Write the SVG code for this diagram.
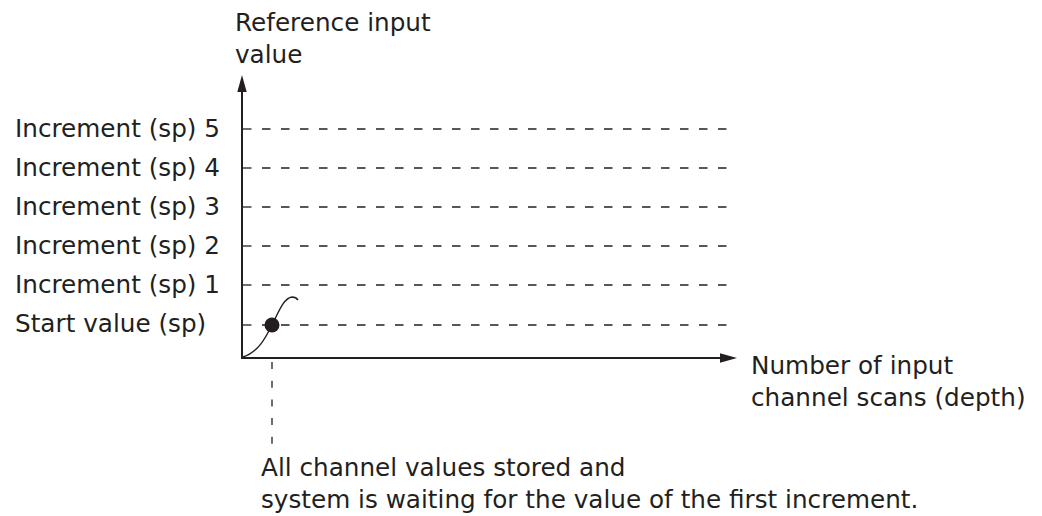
<svg xmlns="http://www.w3.org/2000/svg" width="1042" height="516" viewBox="0 0 1042 516">
<defs>
<style>
text{font-family:"DejaVu Sans","Liberation Sans",sans-serif;font-size:24.7px;fill:#231f20}
.axis{stroke:#231f20;stroke-width:2;fill:none}
.grid{stroke:#231f20;stroke-width:1.3;stroke-dasharray:8.5 10.5;fill:none}
.vdash{stroke:#231f20;stroke-width:1.3;stroke-dasharray:7 11.7;fill:none}
.head{fill:#231f20}
</style>
</defs>
<rect width="1042" height="516" fill="#ffffff"/>
<g id="labels">
<text x="235" y="31">Reference input</text>
<text x="235" y="63">value</text>
<text x="15" y="137">Increment (sp) 5</text>
<text x="15" y="176">Increment (sp) 4</text>
<text x="15" y="215">Increment (sp) 3</text>
<text x="15" y="254">Increment (sp) 2</text>
<text x="15" y="293">Increment (sp) 1</text>
<text x="15" y="332">Start value (sp)</text>
<text x="751" y="374">Number of input</text>
<text x="751" y="406">channel scans (depth)</text>
<text x="261" y="476">All channel values stored and</text>
<text x="261" y="508">system is waiting for the value of the first increment.</text>
</g>
<g id="gridlines">
<line class="grid" x1="243" y1="129" x2="735" y2="129"/>
<line class="grid" x1="243" y1="168" x2="735" y2="168"/>
<line class="grid" x1="243" y1="207" x2="735" y2="207"/>
<line class="grid" x1="243" y1="246" x2="735" y2="246"/>
<line class="grid" x1="243" y1="285" x2="735" y2="285"/>
<line class="grid" x1="243" y1="325" x2="735" y2="325"/>
</g>
<g id="connectors">
<line class="axis" x1="242" y1="358" x2="242" y2="90"/>
<polygon class="head" points="242,75 237.3,92 246.7,92"/>
<line class="axis" x1="241" y1="358" x2="722" y2="358"/>
<polygon class="head" points="737,358 720,353.3 720,362.7"/>
<line class="vdash" x1="272" y1="362" x2="272" y2="444"/>
<path d="M243,357 C258,352 265,339 272,325 C279,311 284,298 292,297 C295,297 297,298.5 298,300" fill="none" stroke="#231f20" stroke-width="1.4"/>
</g>
<g id="start-point">
<circle cx="272" cy="325" r="7.5" fill="#231f20"/>
</g>
</svg>
